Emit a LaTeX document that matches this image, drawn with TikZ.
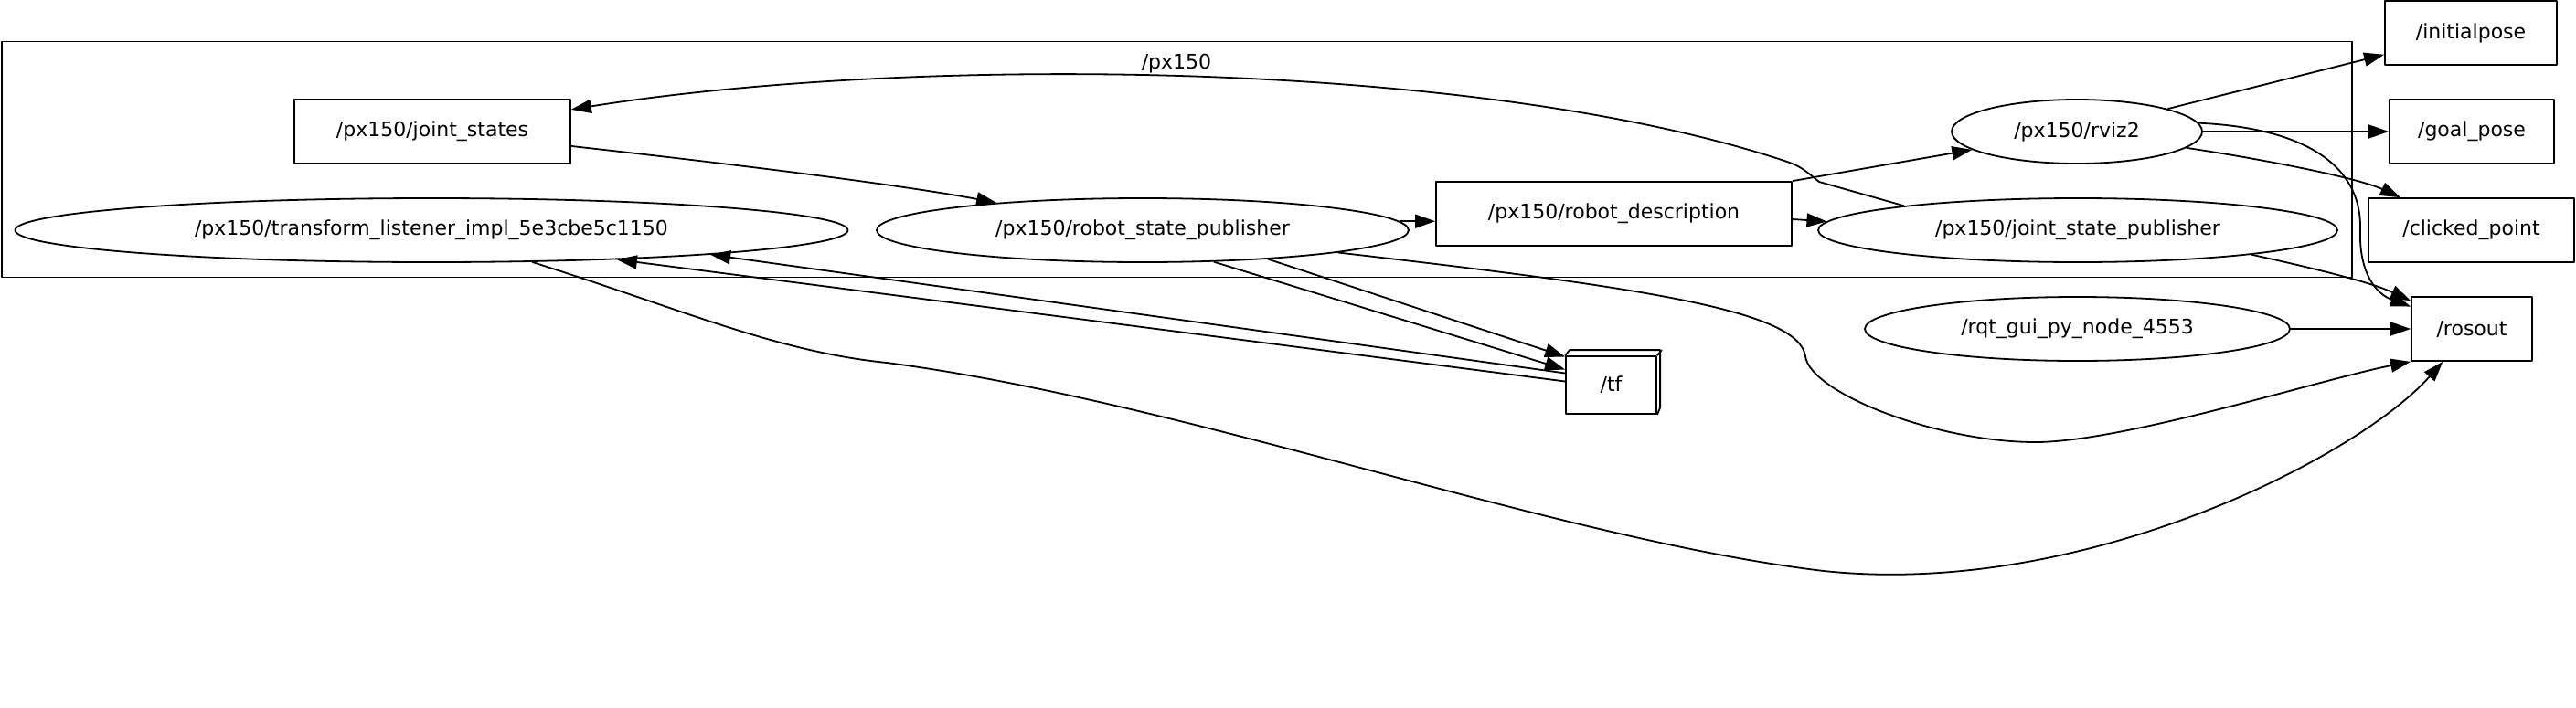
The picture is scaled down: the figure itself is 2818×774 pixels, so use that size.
\documentclass[tikz,border=0pt]{standalone}
\usepackage{fontspec}
\setmainfont{DejaVu Sans}
\usetikzlibrary{shapes.geometric,arrows.meta,positioning,calc}

\begin{document}
\begin{tikzpicture}[x=1pt,y=-1pt,line width=1.8pt,line join=round,
    every node/.style={font=\fontsize{22}{26}\selectfont,inner sep=0pt},
    topic/.style={draw,rectangle,minimum height=70pt},
    rosnode/.style={draw,ellipse,minimum height=70pt},
    edge/.style={-{Triangle[length=22pt,width=15pt]}}]
      \useasboundingbox (0,0) rectangle (2818,774);
      \node[draw,rectangle,minimum width=2571pt,minimum height=258pt] (px150box) at (1287.5,174.5) {};
      \node (px150lbl) at (1287,70) {/px150};
      \node[topic,minimum width=302pt] (js) at (473,144) {/px150/joint\_states};
      \node[rosnode,minimum width=911pt] (tl) at (472,252) {/px150/transform\_listener\_impl\_5e3cbe5c1150};
      \node[rosnode,minimum width=582pt] (rsp) at (1250,252) {/px150/robot\_state\_publisher};
      \node[topic,minimum width=389pt] (rdesc) at (1765.5,234) {/px150/robot\_description};
      \node[rosnode,minimum width=274pt] (rviz) at (2272,144) {/px150/rviz2};
      \node[rosnode,minimum width=568pt] (jsp) at (2273,252) {/px150/joint\_state\_publisher};
      \node[topic,minimum width=188pt] (initpose) at (2703,36) {/initialpose};
      \node[topic,minimum width=180pt] (goalpose) at (2704,144) {/goal\_pose};
      \node[topic,minimum width=225pt] (clicked) at (2703.5,252) {/clicked\_point};
      \node[topic,minimum width=132pt] (rosout) at (2704,360) {/rosout};
      \node[rosnode,minimum width=465pt] (rqt) at (2272.5,360) {/rqt\_gui\_py\_node\_4553};
      \node[topic,minimum width=99pt,minimum height=63pt] (tf) at (1762.5,421.5) {/tf};
      \draw (tf.north west) -- ++(5,-6) -- ++(99,0) -- ++(0,63) -- (tf.south east);
      \draw (tf.north east) -- ++(5,-6);
      \draw[edge] (jsp.172) -- (1990,199) .. controls (1975,187) and (1970,182) .. (1955,177)
        .. controls (1620,65) and (1000,60) .. (js);
      \draw[edge] (js.-6) .. controls (850,185) and (1000,205) .. (rsp);
      \draw[edge] (rsp.2) -- (rsp.2 -| rdesc.west);
      \draw[edge] (rdesc.north east) -- (rviz);
      \draw[edge] ([yshift=-6pt]rdesc.east) -- (jsp.178);
      \draw[edge] (rviz) -- (initpose);
      \draw[edge] (rviz) -- (goalpose);
      \draw[edge] (rviz) .. controls (2480,175) and (2580,195) .. (clicked);
      \draw[edge] (rviz.4) .. controls (2520,140) and (2583,180) .. (2582,250)
        .. controls (2580,300) and (2600,322) .. (rosout);
      \draw[edge] (jsp.-8) .. controls (2560,300) and (2600,312) .. (rosout);
      \draw[edge] (rqt) -- (rosout);
      \draw[edge] (rsp) .. controls (1800,315) and (1968,340) .. (1975,390)
        .. controls (1980,430) and (2120,485) .. (2230,484)
        .. controls (2330,482) and (2540,415) .. (rosout.south west);
      \draw[edge] (tl) .. controls (750,340) and (850,385) .. (970,397)
        .. controls (1300,440) and (1700,590) .. (1995,625)
        .. controls (2280,655) and (2580,500) .. (rosout);
      \draw[edge] (rsp.-13) -- ([yshift=31pt]tf.west);
      \draw[edge] (rsp.-24) -- ([yshift=17pt]tf.west);
      \draw[edge] ([yshift=13pt]tf.west) -- (tl.-5);
      \draw[edge] ([yshift=4pt]tf.west) -- (tl.-9.5);
    \end{tikzpicture}
\end{document}
